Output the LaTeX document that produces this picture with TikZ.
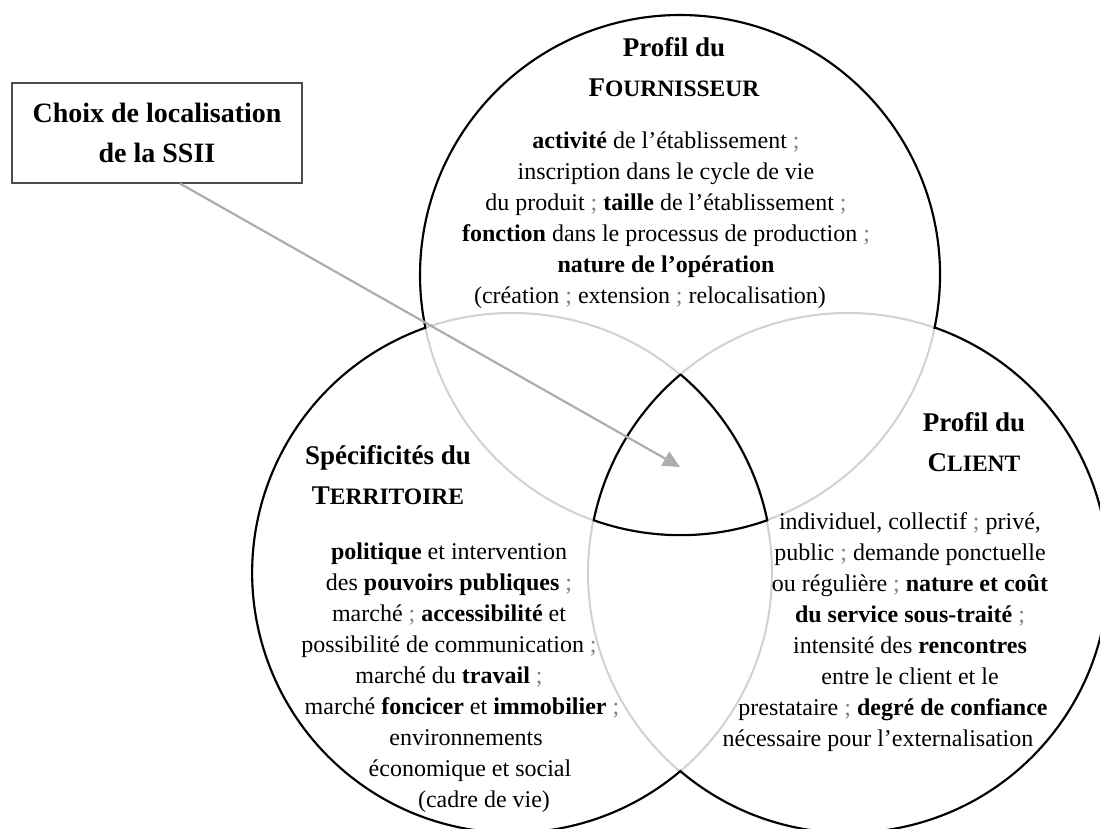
\documentclass[tikz,border=0pt]{standalone}
\usepackage{fontspec}
\setmainfont{Liberation Serif}
\usepackage{tikz}
\usetikzlibrary{arrows.meta}
\usetikzlibrary{positioning}
\definecolor{grisclair}{gray}{0.82}
\definecolor{grisfleche}{gray}{0.68}
\newcommand{\pcap}[2]{#1{\fontsize{23.5}{40}\selectfont #2}} % fake bold small caps
\newcommand{\pv}{{\color{black!50};}}                         % light semicolon
\tikzset{x=1pt, y=1pt,
    cercle/.style={          % the three circles, drawn light
        circle,
        draw=grisclair,
        line width=2pt,
        minimum size=520pt,
        inner sep=0pt},
    contour/.style={         % black outline and central triangle
        draw,
        line width=2.1pt,
        line join=miter},
    boite/.style={           % box at top left
        draw=black!70,
        line width=1.1pt,
        minimum width=290pt,
        minimum height=100pt,
        align=center,
        font=\bfseries\fontsize{28}{40}\selectfont},
    titre/.style={           % circle headings
        align=center,
        font=\bfseries\fontsize{27}{40}\selectfont},
    texte/.style={           % circle contents
        align=center,
        font=\fontsize{24}{31}\selectfont},
    fleche/.style={
        draw=grisfleche,
        line width=2.2pt,
        -{Triangle[length=17pt,width=16pt]}}}

\begin{document}
\begin{tikzpicture}
    \useasboundingbox (0,0) rectangle (1100,828);

    \node[cercle] (fournisseur) at (680,553) {};
    \node[cercle] (territoire) at (512,255) {};
    \node[cercle] (client) at (848,255) {};

    % outer boundary
    \draw[contour] (fournisseur.center) ++(-11.7:260)
        arc[start angle=-11.7, end angle=191.7, radius=260]
        arc[start angle=109.5, end angle=310.3, radius=260]
        arc[start angle=229.7, end angle=430.5, radius=260] -- cycle;
    % common part of the three circles
    \draw[contour] (territoire.center) ++(49.7:260)
        arc[start angle=130.3, end angle=168.3, radius=260]
        arc[start angle=250.5, end angle=289.5, radius=260]
        arc[start angle=11.7, end angle=49.7, radius=260] -- cycle;

    \node[boite] (choix) at (157,695) {Choix de localisation\\de la SSII};
    \coordinate (cible) at (680,361);
    \draw[fleche] ([xshift=23pt]choix.south) -- (cible);

    \node[titre] (titreF) at (674,761) {Profil du\\\pcap{F}{OURNISSEUR}};
    \node[texte] (texteF) at (666,607.5) {%
        \textbf{activité} de l’établissement \pv\\
        inscription dans le cycle de vie\\
        du produit \pv{} \textbf{taille} de l’établissement \pv\\
        \textbf{fonction} dans le processus de production \pv\\
        \textbf{nature de l’opération}\\
        \hspace*{-32pt}(création \pv{} extension \pv{} relocalisation)};

    \node[titre] (titreT) at (388,353) {Spécificités du\\\pcap{T}{ERRITOIRE}};
    \node[texte] (texteT) at (449,150.5) {%
        \textbf{politique} et intervention\\
        des \textbf{pouvoirs publiques} \pv\\
        marché \pv{} \textbf{accessibilité} et\\
        possibilité de communication \pv\\
        marché du \textbf{travail} \pv\\
        \hspace*{26pt}marché \textbf{foncicer} et \textbf{immobilier} \pv\\
        \hspace*{34pt}environnements\\
        \hspace*{42pt}économique et social\\
        \hspace*{70pt}(cadre de vie)};

    \node[titre] (titreC) at (974,385.5) {Profil du\\\pcap{C}{LIENT}};
    \node[texte] (texteC) at (910,195.5) {%
        individuel, collectif \pv{} privé,\\
        public \pv{} demande ponctuelle\\
        ou régulière \pv{} \textbf{nature et coût}\\
        \textbf{du service sous-traité} \pv\\
        intensité des \textbf{rencontres}\\
        entre le client et le\\
        \hspace*{-34pt}prestataire \pv{} \textbf{degré de confiance}\\
        \hspace*{-64pt}nécessaire pour l’externalisation};
\end{tikzpicture}
\end{document}
